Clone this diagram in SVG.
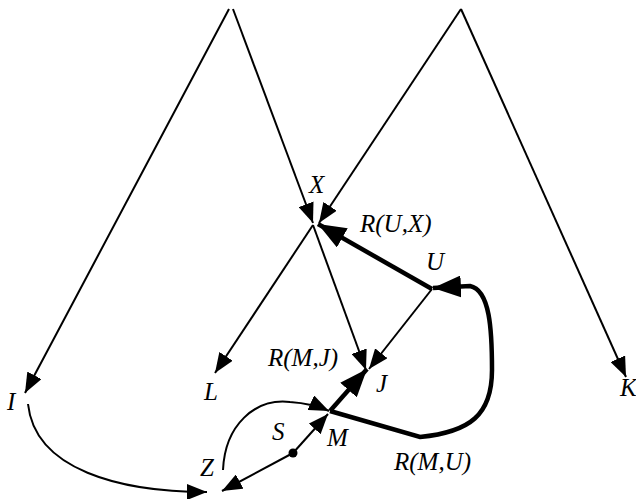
<svg xmlns="http://www.w3.org/2000/svg" width="636" height="499" viewBox="0 0 636 499">
<style>
.e{fill:none;stroke:#000;stroke-width:2}
.t{fill:none;stroke:#000;stroke-width:4.5}
.a{marker-end:url(#ah)}
.b{marker-end:url(#bh)}
text{font-family:"Liberation Serif","Times New Roman",serif;font-style:italic;font-size:25px;fill:#000}
</style>
<defs>
<marker id="ah" markerUnits="userSpaceOnUse" viewBox="0 0 20 16" markerWidth="20" markerHeight="16" refX="20" refY="8" orient="auto"><path d="M0,0 L20,8 L0,16 Z" fill="#000"/></marker>
<marker id="bh" markerUnits="userSpaceOnUse" viewBox="0 0 28 22" markerWidth="28" markerHeight="22" refX="28" refY="11" orient="auto"><path d="M0,0 L28,11 L0,22 Z" fill="#000"/></marker>
</defs>
<g id="connectors">
<path class="e a" d="M229,9 L25,393"/>
<path class="e a" d="M233,9 L313,223"/>
<path class="e a" d="M461,9 L319,223"/>
<path class="e a" d="M461,9 L626,377"/>
<path class="e a" d="M313,225 L215,373"/>
<path class="e a" d="M313,225 L366,370"/>
<path class="e a" d="M432,289 L369,369"/>
<path class="t b" d="M432,289 L318,224"/>
<path class="t b" d="M330,411 L367,369"/>
<path class="t b" d="M330,411 L420,437 C470,432 492,415 492,370 C492,330 490,290 470,286 L433,288"/>
<path class="e a" d="M223,470 C225,425 255,398 290,402 C305,403 318,406 329,411"/>
<path class="e a" d="M293,453 L328,414"/>
<path class="e a" d="M293,453 L222,491"/>
<path class="e a" d="M28,404 C35,470 120,492 207,492"/>
</g>
<g id="node-S-dot"><circle cx="293" cy="453" r="4.5" fill="#000"/></g>
<g id="node-X"><text x="309" y="193">X</text></g>
<g id="node-U"><text x="426" y="270">U</text></g>
<g id="node-I"><text x="7" y="410">I</text></g>
<g id="node-L"><text x="204" y="400">L</text></g>
<g id="node-J"><text x="376" y="392">J</text></g>
<g id="node-K"><text x="620" y="396">K</text></g>
<g id="node-M"><text x="327" y="446">M</text></g>
<g id="node-S"><text x="272" y="440">S</text></g>
<g id="node-Z"><text x="200" y="476">Z</text></g>
<g id="labels">
<text x="360" y="232">R(U,X)</text>
<text x="268" y="366">R(M,J)</text>
<text x="394" y="470">R(M,U)</text>
</g>
</svg>
